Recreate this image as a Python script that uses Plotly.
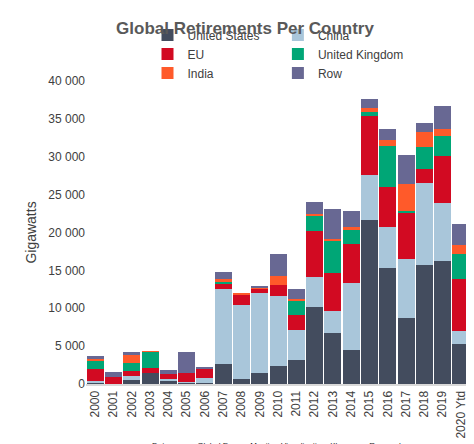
import plotly.graph_objects as go

years = ['2000', '2001', '2002', '2003', '2004', '2005', '2006', '2007', '2008', '2009', '2010',
         '2011', '2012', '2013', '2014', '2015', '2016', '2017', '2018', '2019', '2020 Ytd']

# Retirements in MW
united_states = [100, 0, 500, 1450, 370, 150, 100, 2650, 700, 1450, 2330,
                 3170, 10170, 6670, 4430, 21700, 15350, 8770, 15750, 16300, 5300]
china = [300, 50, 500, 0, 330, 150, 650, 9950, 9700, 10500, 9300,
         4000, 3930, 2980, 8870, 5900, 5350, 7730, 10800, 7600, 1700]
eu = [1600, 900, 700, 650, 560, 1100, 1350, 700, 1350, 650, 1450,
      1900, 6050, 5000, 5200, 7800, 5350, 6150, 1850, 6150, 6800]
uk = [1150, 0, 1100, 2150, 0, 0, 0, 200, 0, 0, 0,
      1950, 2100, 4250, 1800, 450, 5400, 200, 2950, 2750, 3400]
india = [250, 0, 1000, 100, 0, 0, 0, 300, 150, 200, 1200,
         200, 200, 300, 400, 550, 750, 3500, 1950, 800, 1150]
row = [250, 600, 400, 0, 540, 2800, 100, 1000, 0, 100, 2900,
       1350, 1600, 3900, 2100, 1200, 1500, 3850, 1100, 3100, 2750]

series = [
    ('United States', united_states, '#434c5e'),
    ('China', china, '#a9c6da'),
    ('EU', eu, '#d20a22'),
    ('United Kingdom', uk, '#00a676'),
    ('India', india, '#ff5a2a'),
    ('Row', row, '#686893'),
]

fig = go.Figure()
for name, vals, color in series:
    fig.add_trace(go.Bar(x=years, y=vals, name=name, marker_color=color,
                         marker_line_width=0))

fig.update_layout(
    barmode='stack',
    bargap=0.07,
    width=474, height=444,
    separators='. ',
    plot_bgcolor='white', paper_bgcolor='white',
    font=dict(family='Liberation Sans, Arial', color='#404040', size=12),
    title=dict(text='<b>Global Retirements Per Country</b>', x=0.5, y=0.968,
               font=dict(size=17, color='#595959')),
    legend=dict(orientation='h', x=0.5, xanchor='center', y=1.2, yanchor='top',
                font=dict(size=12), itemwidth=30, traceorder='normal',
                tracegroupgap=0, entrywidth=0),
    margin=dict(l=78, r=12, t=62, b=68),
    annotations=[dict(text='Datasource: Global Energy Monitor, Visualization: Klaveness Research',
                      x=0.5, y=-0.225, xref='paper', yref='paper', showarrow=False,
                      font=dict(size=8, color='#222'))],
)
fig.update_yaxes(range=[0, 40000], dtick=5000, tickformat=',', showgrid=False,
                 title=dict(text='Gigawatts', standoff=8), ticks='', zeroline=False)
fig.update_xaxes(tickangle=-90, showline=True, linecolor='#d9d9d9', linewidth=2,
                 tickfont=dict(size=12))

fig.write_html('out.html')
